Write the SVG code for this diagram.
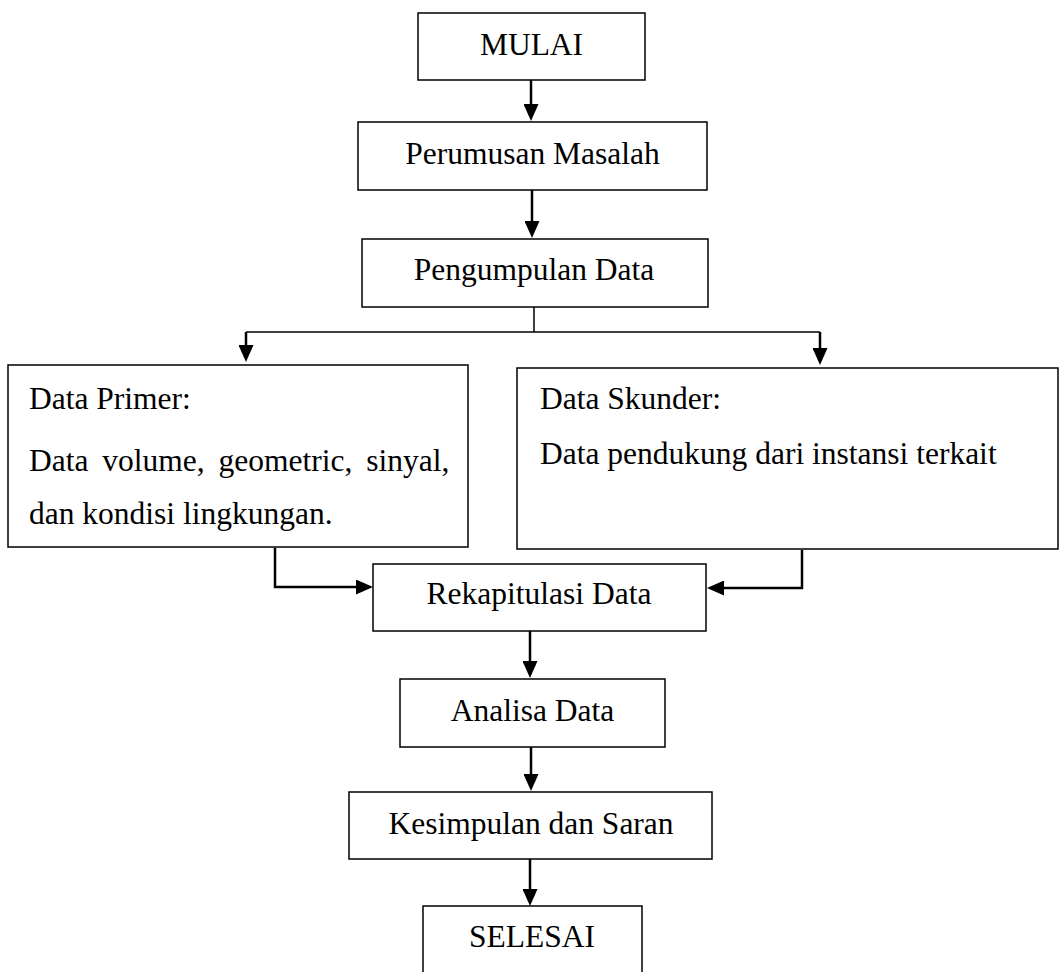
<svg xmlns="http://www.w3.org/2000/svg" width="1060" height="972" viewBox="0 0 1060 972">
  <style>
    .box { fill: #ffffff; stroke: #000000; stroke-width: 1.5; }
    .lbl { font-family: "Liberation Serif", "Times New Roman", serif; font-size: 31.5px; fill: #000000; }
    .c { text-anchor: middle; }
    .con { fill: none; stroke: #000000; stroke-width: 2.5; }
    .thin { fill: none; stroke: #000000; stroke-width: 1.5; }
  </style>
  <defs>
    <marker id="ah" markerWidth="17" markerHeight="15" refX="13" refY="7.5" orient="auto" markerUnits="userSpaceOnUse">
      <path d="M0,0 L17,7.5 L0,15 z" fill="#000000"/>
    </marker>
  </defs>
  <rect width="1060" height="972" fill="#ffffff"/>

  <g id="connectors">
    <path class="con" d="M531,80 V117" marker-end="url(#ah)"/>
    <path class="con" d="M532,190 V234" marker-end="url(#ah)"/>
    <path class="thin" d="M534,307 V332"/>
    <path class="thin" d="M246,332 H820"/>
    <path class="con" d="M246,332 V358" marker-end="url(#ah)"/>
    <path class="con" d="M820,332 V361" marker-end="url(#ah)"/>
    <path class="con" d="M275,548 V587 H369" marker-end="url(#ah)"/>
    <path class="con" d="M802,550 V588 H711" marker-end="url(#ah)"/>
    <path class="con" d="M530,631 V674" marker-end="url(#ah)"/>
    <path class="con" d="M531,747 V787" marker-end="url(#ah)"/>
    <path class="con" d="M530,859 V902" marker-end="url(#ah)"/>
  </g>

  <g id="mulai">
    <rect class="box" x="418" y="13" width="227" height="67"/>
    <text class="lbl c" x="531.5" y="55">MULAI</text>
  </g>
  <g id="perumusan">
    <rect class="box" x="358" y="122" width="349" height="68"/>
    <text class="lbl c" x="532.5" y="164">Perumusan Masalah</text>
  </g>
  <g id="pengumpulan">
    <rect class="box" x="362" y="239" width="346" height="68"/>
    <text class="lbl c" x="534" y="280">Pengumpulan Data</text>
  </g>
  <g id="primer">
    <rect class="box" x="8" y="365" width="460" height="182"/>
    <text class="lbl" x="29" y="409">Data Primer:</text>
    <text class="lbl" x="29" y="471" word-spacing="6">Data volume, geometric, sinyal,</text>
    <text class="lbl" x="29" y="524">dan kondisi lingkungan.</text>
  </g>
  <g id="skunder">
    <rect class="box" x="517" y="368" width="541" height="181"/>
    <text class="lbl" x="540" y="409">Data Skunder:</text>
    <text class="lbl" x="540" y="464">Data pendukung dari instansi terkait</text>
  </g>
  <g id="rekap">
    <rect class="box" x="373" y="564" width="333" height="67"/>
    <text class="lbl c" x="539" y="604">Rekapitulasi Data</text>
  </g>
  <g id="analisa">
    <rect class="box" x="400" y="679" width="265" height="68"/>
    <text class="lbl c" x="532.5" y="721">Analisa Data</text>
  </g>
  <g id="kesimpulan">
    <rect class="box" x="349" y="792" width="363" height="67"/>
    <text class="lbl c" x="531" y="834">Kesimpulan dan Saran</text>
  </g>
  <g id="selesai">
    <rect class="box" x="423" y="906" width="219" height="80"/>
    <text class="lbl c" x="532" y="947">SELESAI</text>
  </g>
</svg>
